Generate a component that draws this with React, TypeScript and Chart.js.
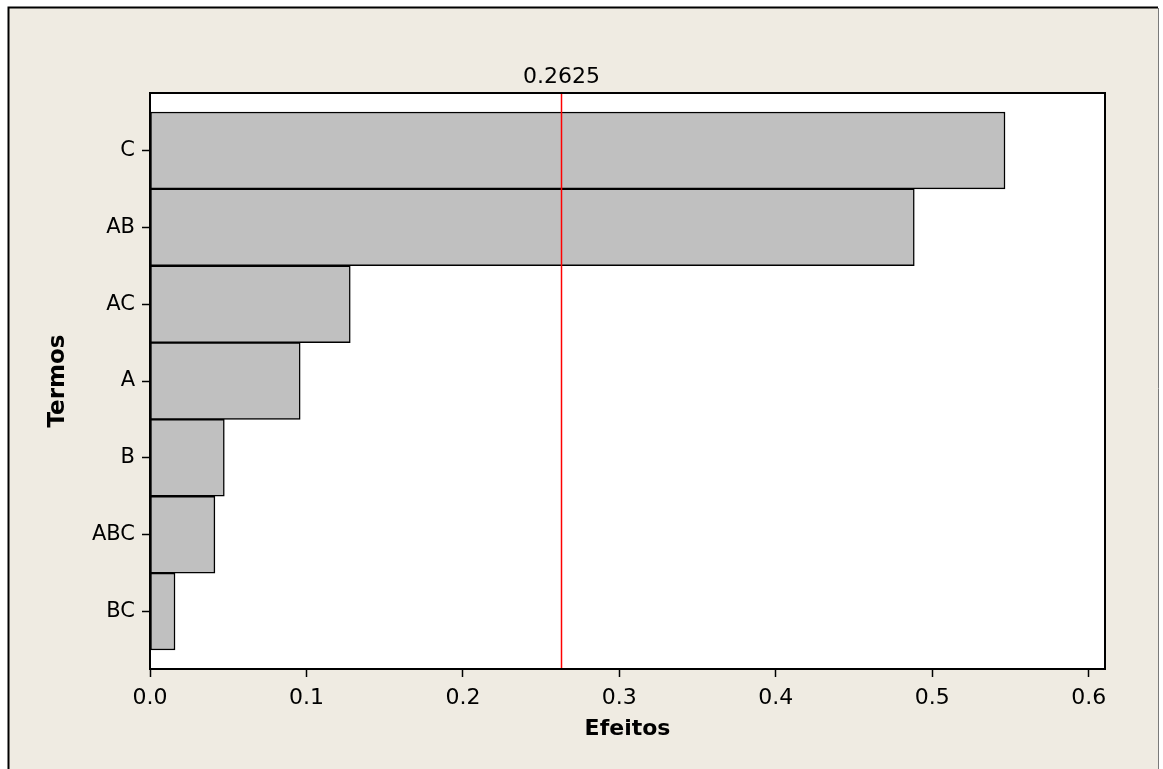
import React, { useEffect, useRef } from 'react';
import { Chart, registerables } from 'chart.js';

Chart.register(...registerables);

const CATEGORIES: string[] = ['C', 'AB', 'AC', 'A', 'B', 'ABC', 'BC'];
const EFFECTS: number[] = [0.5465, 0.4885, 0.128, 0.096, 0.0475, 0.0415, 0.016];
const X_TICKS: number[] = [0, 0.1, 0.2, 0.3, 0.4, 0.5, 0.6];
const X_MIN = 0;
const X_MAX = 0.6104;
const Y_PAD = 0.747;
const REFERENCE = 0.2625;
const REFERENCE_LABEL = '0.2625';
const X_TITLE = 'Efeitos';
const Y_TITLE = 'Termos';

const FAMILY = "'DejaVu Sans', Verdana, sans-serif";
const BEIGE = '#EFEBE2';

const framePlugin = {
  id: 'framePlugin',
  beforeDraw(chart: any) {
    const { ctx, width, height, chartArea } = chart;
    ctx.save();
    ctx.fillStyle = '#ffffff';
    ctx.fillRect(0, 0, width, height);
    ctx.fillStyle = BEIGE;
    ctx.fillRect(9, 8, 1149, height - 8);
    // outer frame
    ctx.strokeStyle = '#000';
    ctx.lineWidth = 2;
    ctx.beginPath();
    ctx.moveTo(8.5, height);
    ctx.lineTo(8.5, 7.5);
    ctx.lineTo(1158, 7.5);
    ctx.stroke();
    ctx.strokeStyle = '#7a7a7a';
    ctx.lineWidth = 1;
    ctx.beginPath();
    ctx.moveTo(1158.5, 8);
    ctx.lineTo(1158.5, height);
    ctx.stroke();
    // plot background
    ctx.fillStyle = '#ffffff';
    ctx.fillRect(chartArea.left, chartArea.top, chartArea.right - chartArea.left, chartArea.bottom - chartArea.top);
    ctx.restore();
  },
  afterDatasetsDraw(chart: any) {
    const { ctx, chartArea, scales } = chart;
    const x = Math.round(scales.x.getPixelForValue(REFERENCE)) + 0.5;
    ctx.save();
    ctx.strokeStyle = '#ff0000';
    ctx.lineWidth = 1.5;
    ctx.beginPath();
    ctx.moveTo(x, chartArea.top);
    ctx.lineTo(x, chartArea.bottom);
    ctx.stroke();
    ctx.strokeStyle = '#000';
    ctx.lineWidth = 2;
    ctx.strokeRect(chartArea.left, chartArea.top, chartArea.right - chartArea.left, chartArea.bottom - chartArea.top);
    ctx.fillStyle = '#000';
    ctx.font = `22px ${FAMILY}`;
    ctx.textAlign = 'center';
    ctx.textBaseline = 'middle';
    ctx.fillText(REFERENCE_LABEL, x, chartArea.top - 16);
    ctx.restore();
  },
};

export default function App() {
  const ref = useRef<HTMLCanvasElement | null>(null);

  useEffect(() => {
    if (!ref.current) return;
    const chart = new Chart(ref.current, {
      type: 'bar',
      data: {
        datasets: [
          {
            data: EFFECTS.map((v, i) => ({ x: v, y: i })),
            backgroundColor: '#C0C0C0',
            borderColor: '#000000',
            borderWidth: 1.5,
            borderSkipped: false,
            categoryPercentage: 1,
            barPercentage: 1,
          },
        ],
      },
      options: {
        indexAxis: 'y',
        animation: false,
        responsive: false,
        maintainAspectRatio: false,
        layout: { padding: { left: 0, top: 93, right: 58, bottom: 0 } },
        plugins: { legend: { display: false }, tooltip: { enabled: false } },
        scales: {
          x: {
            type: 'linear',
            min: X_MIN,
            max: X_MAX,
            offset: false,
            afterBuildTicks: (s: any) => {
              s.ticks = X_TICKS.map((v) => ({ value: v }));
            },
            afterFit: (s: any) => {
              s.height = 100;
            },
            ticks: {
              callback: (v: any) => Number(v).toFixed(1),
              font: { family: FAMILY, size: 22 },
              color: '#000',
              padding: 8,
              maxRotation: 0,
              autoSkip: false,
            },
            grid: { display: true, offset: false, drawOnChartArea: false, drawTicks: true, tickLength: 8, tickColor: '#000', tickWidth: 1.5 },
            border: { display: false },
            title: {
              display: true,
              text: X_TITLE,
              color: '#000',
              font: { family: FAMILY, size: 22, weight: 'bold' },
              padding: { top: 0, bottom: 27 },
            },
          },
          y: {
            type: 'linear',
            reverse: true,
            offset: false,
            min: -Y_PAD,
            max: CATEGORIES.length - 1 + Y_PAD,
            afterBuildTicks: (s: any) => {
              s.ticks = CATEGORIES.map((_, i) => ({ value: i }));
            },
            afterFit: (s: any) => {
              s.width = 150;
            },
            ticks: {
              callback: (v: any) => CATEGORIES[v] ?? '',
              font: { family: FAMILY, size: 21 },
              color: '#000',
              padding: 7,
              autoSkip: false,
            },
            grid: { display: true, offset: false, drawOnChartArea: false, drawTicks: true, tickLength: 8, tickColor: '#000', tickWidth: 1.5 },
            border: { display: false },
            title: {
              display: true,
              text: Y_TITLE,
              color: '#000',
              font: { family: FAMILY, size: 23, weight: 'bold' },
              padding: { top: 44, bottom: 0 },
            },
          },
        },
      },
      plugins: [framePlugin],
    } as any);
    return () => chart.destroy();
  }, []);

  return (
    <div style={{ position: 'absolute', left: 0, top: 0, width: 1163, height: 769 }}>
      <canvas ref={ref} width={1163} height={769} style={{ display: 'block' }} />
    </div>
  );
}
